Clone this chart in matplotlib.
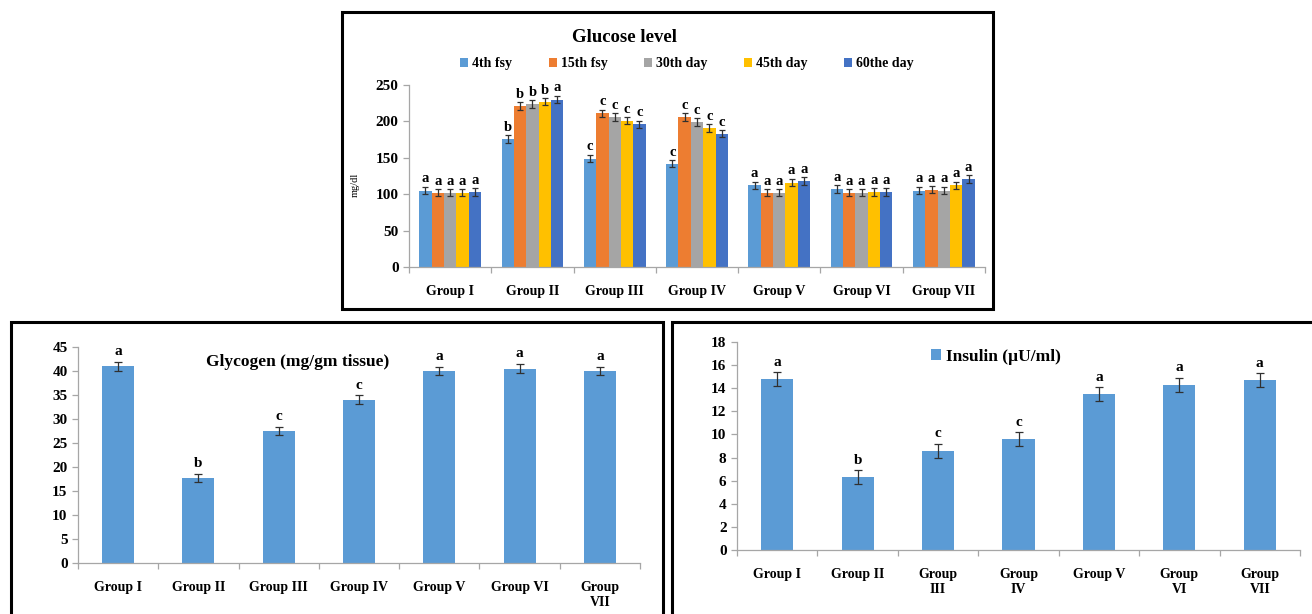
import matplotlib
matplotlib.use("Agg")
import matplotlib.pyplot as plt
from matplotlib.patches import Rectangle
import numpy as np

plt.rcParams['font.family'] = ['Liberation Serif', 'DejaVu Serif']
plt.rcParams['font.weight'] = 'bold'

# ---- data ----
groups = ["Group I", "Group II", "Group III", "Group IV", "Group V", "Group VI", "Group VII"]
days = ["4th fsy", "15th fsy", "30th day", "45th day", "60the day"]
day_colors = ["#5B9BD5", "#ED7D31", "#A5A5A5", "#FFC000", "#4472C4"]

glucose_4th = [105, 176, 149, 142, 112, 107, 105]
glucose_15th = [102, 221, 211, 206, 102, 102, 106]
glucose_30th = [102, 224, 206, 199, 102, 102, 105]
glucose_45th = [102, 227, 201, 191, 116, 103, 112]
glucose_60th = [103, 230, 196, 183, 118, 103, 121]
glucose_err = 5
glucose_letters = [
    ["a", "b", "c", "c", "a", "a", "a"],
    ["a", "b", "c", "c", "a", "a", "a"],
    ["a", "b", "c", "c", "a", "a", "a"],
    ["a", "b", "c", "c", "a", "a", "a"],
    ["a", "a", "c", "c", "a", "a", "a"],
]

glycogen = [41.0, 17.7, 27.5, 34.0, 40.0, 40.5, 40.0]
glycogen_err = [0.9, 0.9, 0.9, 0.9, 0.9, 0.9, 0.9]
glycogen_letters = ["a", "b", "c", "c", "a", "a", "a"]
glycogen_ticks = ["Group I", "Group II", "Group III", "Group IV", "Group V", "Group VI", "Group\nVII"]

insulin = [14.8, 6.3, 8.6, 9.6, 13.5, 14.3, 14.7]
insulin_err = [0.6, 0.6, 0.6, 0.6, 0.6, 0.6, 0.6]
insulin_letters = ["a", "b", "c", "c", "a", "a", "a"]
insulin_ticks = ["Group I", "Group II", "Group\nIII", "Group\nIV", "Group V", "Group\nVI", "Group\nVII"]

W, H = 1312, 614
fig = plt.figure(figsize=(W / 100, H / 100), dpi=100)


def fx(px):
    return px / W


def fy(py):
    return 1 - py / H


def box(x0, y0, x1, y1):
    fig.patches.append(Rectangle((fx(x0), fy(y1)), fx(x1 - x0), y1 / H - y0 / H,
                                 transform=fig.transFigure, fill=False,
                                 edgecolor="black", linewidth=2.2))


def style_axis(ax, n):
    for s in ["top", "right"]:
        ax.spines[s].set_visible(False)
    for s in ["left", "bottom"]:
        ax.spines[s].set_color("#A6A6A6")
        ax.spines[s].set_linewidth(0.9)
    ax.set_xlim(-0.5, n - 0.5)
    ax.tick_params(axis="y", colors="#A6A6A6", labelcolor="black", length=4, width=0.9, labelsize=11)
    ax.tick_params(axis="x", which="major", length=0, labelsize=10, pad=13)
    ax.set_xticks(np.arange(-0.5, n), minor=True)
    ax.tick_params(axis="x", which="minor", length=4, colors="#A6A6A6", width=0.9)


box(342, 12, 993, 309)
box(11, 322, 663, 640)
box(672, 322, 1330, 640)

# ---- glucose ----
ax1 = fig.add_axes([fx(409), fy(267), fx(985 - 409), (267 - 85) / H])
x = np.arange(len(groups))
bw = 0.15
series = [glucose_4th, glucose_15th, glucose_30th, glucose_45th, glucose_60th]
for i, (vals, col, lab) in enumerate(zip(series, day_colors, days)):
    pos = x + (i - 2) * bw
    ax1.bar(pos, vals, bw, color=col, label=lab,
            yerr=glucose_err, error_kw=dict(ecolor="#303030", elinewidth=0.9, capsize=2, capthick=0.9))
    for p, v, t in zip(pos, vals, glucose_letters[i]):
        ax1.text(p, v + glucose_err + 2, t, ha="center", va="bottom", fontsize=10.5, fontweight="bold")
ax1.set_ylim(0, 250)
ax1.set_yticks(range(0, 251, 50))
style_axis(ax1, len(groups))
ax1.set_xticks(x)
ax1.set_xticklabels(groups)
ax1.set_ylabel("mg/dl", fontsize=7.5)
ax1.yaxis.set_label_coords(-0.085, 0.45)
fig.text(fx(624), fy(37), "Glucose level", ha="center", va="center", fontsize=13.5, fontweight="bold")
fig.legend(loc="center", bbox_to_anchor=(fx(687), fy(64)), ncol=5, frameon=False,
           fontsize=10, handlelength=0.6, handleheight=0.6, handletextpad=0.3, columnspacing=2.6)

# ---- glycogen ----
ax2 = fig.add_axes([fx(78), fy(563), fx(640 - 78), (563 - 347) / H])
ax2.bar(x, glycogen, 0.4, color="#5B9BD5", yerr=glycogen_err,
        error_kw=dict(ecolor="#303030", elinewidth=0.9, capsize=3, capthick=0.9))
for p, v, e, t in zip(x, glycogen, glycogen_err, glycogen_letters):
    ax2.text(p, v + e + 0.8, t, ha="center", va="bottom", fontsize=11, fontweight="bold")
ax2.set_ylim(0, 45)
ax2.set_yticks(range(0, 46, 5))
style_axis(ax2, len(groups))
ax2.set_xticks(x)
ax2.set_xticklabels(glycogen_ticks, va="top")
ax2.text(0.39, 0.93, "Glycogen (mg/gm tissue)", transform=ax2.transAxes, ha="center", va="center",
         fontsize=12.5, fontweight="bold")

# ---- insulin ----
ax3 = fig.add_axes([fx(737), fy(550), fx(1300 - 737), (550 - 342) / H])
ax3.bar(x, insulin, 0.4, color="#5B9BD5", yerr=insulin_err, label="Insulin (\u00b5U/ml)",
        error_kw=dict(ecolor="#303030", elinewidth=0.9, capsize=3, capthick=0.9))
for p, v, e, t in zip(x, insulin, insulin_err, insulin_letters):
    ax3.text(p, v + e + 0.3, t, ha="center", va="bottom", fontsize=11, fontweight="bold")
ax3.set_ylim(0, 18)
ax3.set_yticks(range(0, 19, 2))
style_axis(ax3, len(groups))
ax3.set_xticks(x)
ax3.set_xticklabels(insulin_ticks, va="top")
ax3.legend(loc="center", bbox_to_anchor=(0.46, 0.93), frameon=False, fontsize=12.5,
           handlelength=0.6, handleheight=0.6, handletextpad=0.3)

fig.savefig("out.png", dpi=100)
